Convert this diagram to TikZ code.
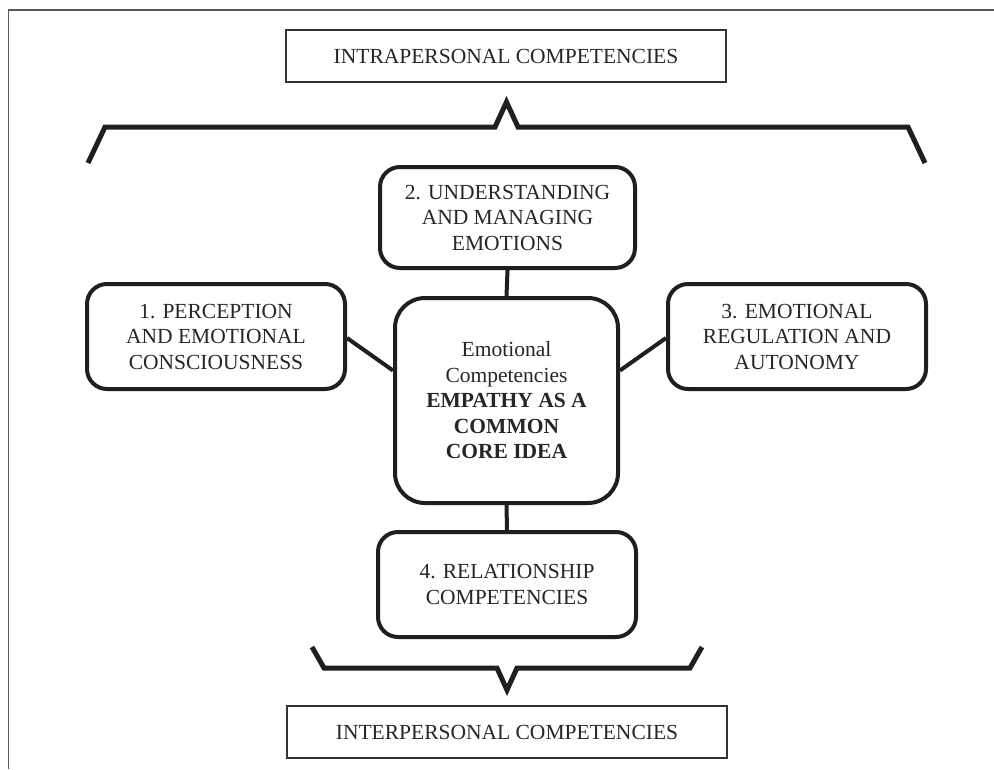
\documentclass[tikz,border=0pt]{standalone}
\usepackage{fontspec}
\setmainfont{Liberation Serif}
\usetikzlibrary{calc}
\begin{document}
\begin{tikzpicture}[x=1pt,y=-1pt,
  lbl/.style={font=\fontsize{21.5}{25.5}\selectfont, align=center, text=black!85},
  plainbox/.style={lbl, draw=black!80, line width=1.3pt, minimum width=440pt, minimum height=52pt, inner sep=0pt},
  roundbox/.style={lbl, draw=black!88, line width=4pt, rounded corners=20pt, inner sep=0pt},
  link/.style={draw=black!88, line width=4pt},
  brace/.style={draw=black!88, line width=5pt, line join=miter}]
\useasboundingbox (0,0) rectangle (994,769);
\fill[white] (0,0) rectangle (994,769);
% frame
\draw[black!65, line width=1.5pt] (8.5,769) -- (8.5,10) -- (994,10);
% nodes
\node[plainbox] (intra) at (506,56) {INTRAPERSONAL COMPETENCIES};
\node[plainbox] (inter) at (507,732) {INTERPERSONAL COMPETENCIES};
\node[roundbox, minimum width=255pt, minimum height=101pt] (b2) at (507.5,217.5) {2. UNDERSTANDING\\AND MANAGING\\EMOTIONS};
\node[roundbox, rounded corners=30pt, minimum width=223pt, minimum height=205pt] (core) at (506.5,400.5) {Emotional\\Competencies\\\textbf{EMPATHY AS A}\\\textbf{COMMON}\\\textbf{CORE IDEA}};
\node[roundbox, minimum width=258pt, minimum height=105pt] (b1) at (216,336.5) {1. PERCEPTION\\AND EMOTIONAL\\CONSCIOUSNESS};
\node[roundbox, minimum width=258pt, minimum height=105pt] (b3) at (797,336.5) {3. EMOTIONAL\\REGULATION AND\\AUTONOMY};
\node[roundbox, minimum width=258pt, minimum height=105pt] (b4) at (507,584.5) {4. RELATIONSHIP\\COMPETENCIES};
% connectors
\draw[link] (b2.south) -- (core.north);
\draw[link] (core.south) -- (b4.north);
\draw[link] ([yshift=-1.5pt]b1.east) -- ([yshift=30pt]core.west);
\draw[link] ([yshift=-1.5pt]b3.west) -- ([yshift=30pt]core.east);
% brackets
\draw[brace] (88,163) -- (105,127) -- (495,127) -- (506.5,102) -- (518,127) -- (908,127) -- (925,163);
\draw[brace] (312,647) -- (324,668) -- (497,668) -- (507,690) -- (517,668) -- (690,668) -- (702,647);
\end{tikzpicture}
\end{document}
